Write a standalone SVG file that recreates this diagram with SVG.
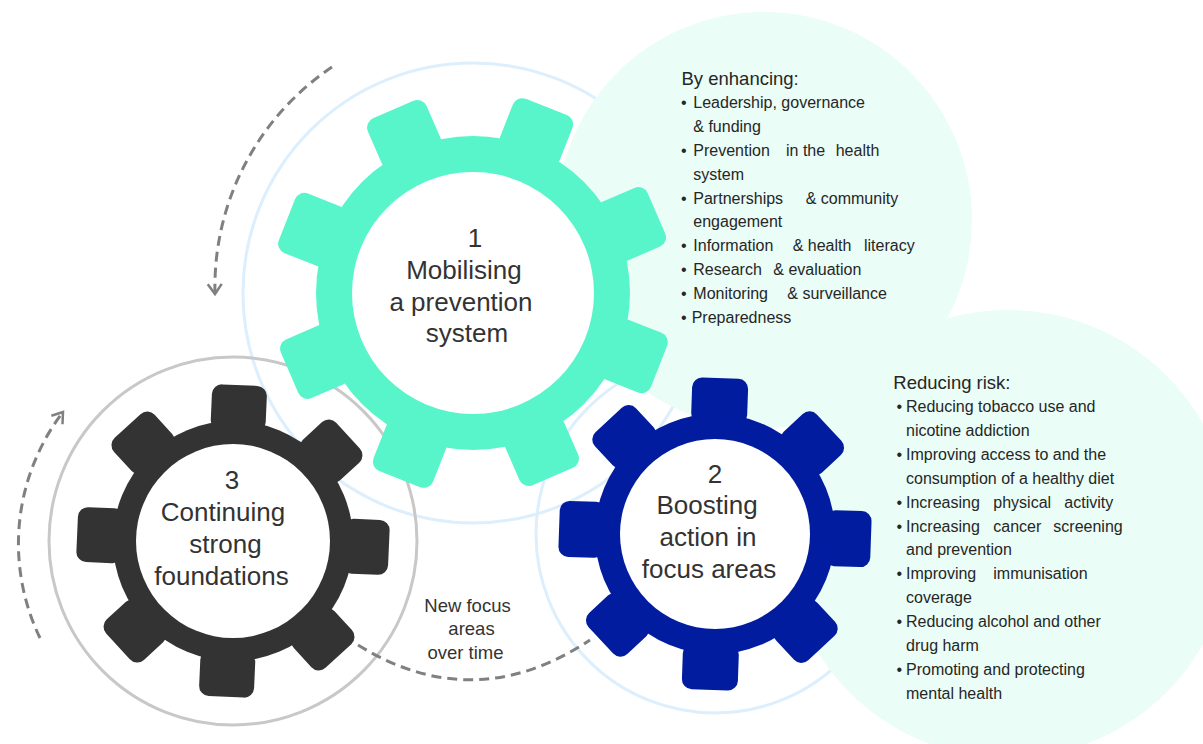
<svg xmlns="http://www.w3.org/2000/svg" xmlns:xlink="http://www.w3.org/1999/xlink" width="1203" height="744" viewBox="0 0 1203 744">
<style>
.ring{fill:none;stroke-width:3}
.blob{fill:#EAFDF6}
.g1{fill:#58F5CB}
.g2{fill:#021CA0}
.g3{fill:#333333}
.hole{fill:#ffffff}
.gt{font-family:"Liberation Sans",Arial,sans-serif;font-size:26px;fill:#333333;text-anchor:middle}
.lt{font-family:"Liberation Sans",Arial,sans-serif;font-size:16px;fill:#262626}
.hd{font-family:"Liberation Sans",Arial,sans-serif;font-size:18.5px;fill:#262626}
.nf{font-family:"Liberation Sans",Arial,sans-serif;font-size:18.5px;fill:#333333;text-anchor:middle}
.dash{fill:none;stroke:#808080;stroke-width:3;stroke-dasharray:10 6}
</style>
<defs>
<rect id="t1" x="441" y="93" width="64" height="55" rx="10"/>
<rect id="t2" x="687" y="378" width="56" height="46" rx="10"/>
<rect id="t3" x="205.5" y="385" width="55" height="46" rx="10"/>
<marker id="ah" markerWidth="20" markerHeight="20" refX="0" refY="0" viewBox="-12 -10 14 20" markerUnits="userSpaceOnUse" orient="auto">
<path d="M-10,-7 L0,0 L-10,7" fill="none" stroke="#808080" stroke-width="2.5"/>
</marker>
</defs>

<g id="outline-circles">
<circle class="ring" cx="473" cy="293" r="230" stroke="#DDEFFD"/>
<circle class="ring" cx="715" cy="534" r="179" stroke="#DDEFFD"/>
<circle class="ring" cx="233" cy="541" r="184" stroke="#C8C8C8"/>
</g>

<g id="blobs">
<circle class="blob" cx="764" cy="220" r="208"/>
<circle class="blob" cx="1008" cy="534" r="224"/>
</g>

<g id="connectors">
<path class="dash" d="M332,67 A265,265 0 0 0 215,294" marker-end="url(#ah)"/>
<path class="dash" d="M40,638 A217,217 0 0 1 63,412" marker-end="url(#ah)"/>
<path class="dash" d="M358,645 Q474,717 590,640"/>
</g>

<g id="gear1" class="g1">
<circle cx="473" cy="293" r="157"/>
<use xlink:href="#t1" transform="rotate(21.5 473 293)"/>
<use xlink:href="#t1" transform="rotate(66.5 473 293)"/>
<use xlink:href="#t1" transform="rotate(111.5 473 293)"/>
<use xlink:href="#t1" transform="rotate(156.5 473 293)"/>
<use xlink:href="#t1" transform="rotate(201.5 473 293)"/>
<use xlink:href="#t1" transform="rotate(246.5 473 293)"/>
<use xlink:href="#t1" transform="rotate(291.5 473 293)"/>
<use xlink:href="#t1" transform="rotate(336.5 473 293)"/>
<circle class="hole" cx="473" cy="293" r="121"/>
<text class="gt" x="475" y="247">1</text>
<text class="gt" x="464" y="279">Mobilising</text>
<text class="gt" x="461" y="311">a prevention</text>
<text class="gt" x="467" y="342">system</text>
</g>

<g id="gear2" class="g2">
<circle cx="715" cy="534" r="120"/>
<use xlink:href="#t2" transform="rotate(2 715 534)"/>
<use xlink:href="#t2" transform="rotate(47 715 534)"/>
<use xlink:href="#t2" transform="rotate(92 715 534)"/>
<use xlink:href="#t2" transform="rotate(137 715 534)"/>
<use xlink:href="#t2" transform="rotate(182 715 534)"/>
<use xlink:href="#t2" transform="rotate(227 715 534)"/>
<use xlink:href="#t2" transform="rotate(272 715 534)"/>
<use xlink:href="#t2" transform="rotate(317 715 534)"/>
<circle class="hole" cx="715" cy="534" r="95"/>
<text class="gt" x="715" y="483">2</text>
<text class="gt" x="707" y="514">Boosting</text>
<text class="gt" x="708" y="546">action in</text>
<text class="gt" x="709" y="578">focus areas</text>
</g>

<g id="gear3" class="g3">
<circle cx="233" cy="541" r="120"/>
<use xlink:href="#t3" transform="rotate(2.5 233 541)"/>
<use xlink:href="#t3" transform="rotate(47.5 233 541)"/>
<use xlink:href="#t3" transform="rotate(92.5 233 541)"/>
<use xlink:href="#t3" transform="rotate(137.5 233 541)"/>
<use xlink:href="#t3" transform="rotate(182.5 233 541)"/>
<use xlink:href="#t3" transform="rotate(227.5 233 541)"/>
<use xlink:href="#t3" transform="rotate(272.5 233 541)"/>
<use xlink:href="#t3" transform="rotate(317.5 233 541)"/>
<circle class="hole" cx="233" cy="541" r="97"/>
<text class="gt" x="232" y="489">3</text>
<text class="gt" x="223" y="521">Continuing</text>
<text class="gt" x="225.5" y="553">strong</text>
<text class="gt" x="221.5" y="585">foundations</text>
</g>

<g id="label-new-focus">
<text class="nf" x="467.5" y="612">New focus</text>
<text class="nf" x="471.5" y="635">areas</text>
<text class="nf" x="465.5" y="659">over time</text>
</g>

<g id="list-enhancing">
<text class="hd" x="681.5" y="85">By enhancing:</text>
<text class="lt" x="681" y="108">•</text><text class="lt" x="693.3" y="108">Leadership, governance</text>
<text class="lt" x="693.3" y="132">&amp; funding</text>
<text class="lt" x="681" y="156">•</text><text class="lt" y="156"><tspan x="693.3">Prevention</tspan><tspan x="786">in the</tspan><tspan x="835.7">health</tspan></text>
<text class="lt" x="693.3" y="180">system</text>
<text class="lt" x="681" y="203.5">•</text><text class="lt" y="203.5"><tspan x="693.3">Partnerships</tspan><tspan x="805.7">&amp; community</tspan></text>
<text class="lt" x="693.3" y="227">engagement</text>
<text class="lt" x="681" y="251">•</text><text class="lt" y="251"><tspan x="693.3">Information</tspan><tspan x="792.7">&amp; health</tspan><tspan x="864">literacy</tspan></text>
<text class="lt" x="681" y="275">•</text><text class="lt" y="275"><tspan x="693.3">Research</tspan><tspan x="773.3">&amp; evaluation</tspan></text>
<text class="lt" x="681" y="299">•</text><text class="lt" y="299"><tspan x="693.3">Monitoring</tspan><tspan x="787.3">&amp; surveillance</tspan></text>
<text class="lt" x="681" y="323">•</text><text class="lt" x="691.7" y="323">Preparedness</text>
</g>

<g id="list-risk">
<text class="hd" x="893.3" y="388.5">Reducing risk:</text>
<text class="lt" x="896.5" y="411.7">•</text><text class="lt" x="906" y="411.7">Reducing tobacco use and</text>
<text class="lt" x="906" y="435.5">nicotine addiction</text>
<text class="lt" x="896.5" y="459.5">•</text><text class="lt" x="906" y="459.5">Improving access to and the</text>
<text class="lt" x="906" y="483.5">consumption of a healthy diet</text>
<text class="lt" x="896.5" y="507.5">•</text><text class="lt" y="507.5"><tspan x="906">Increasing</tspan><tspan x="993.3">physical</tspan><tspan x="1064.3">activity</tspan></text>
<text class="lt" x="896.5" y="531.5">•</text><text class="lt" y="531.5"><tspan x="906">Increasing</tspan><tspan x="993.3">cancer</tspan><tspan x="1053.3">screening</tspan></text>
<text class="lt" x="906" y="555.3">and prevention</text>
<text class="lt" x="896.5" y="579.3">•</text><text class="lt" y="579.3"><tspan x="906">Improving</tspan><tspan x="993.3">immunisation</tspan></text>
<text class="lt" x="906" y="603">coverage</text>
<text class="lt" x="896.5" y="627">•</text><text class="lt" x="906" y="627">Reducing alcohol and other</text>
<text class="lt" x="906" y="651">drug harm</text>
<text class="lt" x="896.5" y="675">•</text><text class="lt" x="906" y="675">Promoting and protecting</text>
<text class="lt" x="906" y="698.5">mental health</text>
</g>
</svg>
